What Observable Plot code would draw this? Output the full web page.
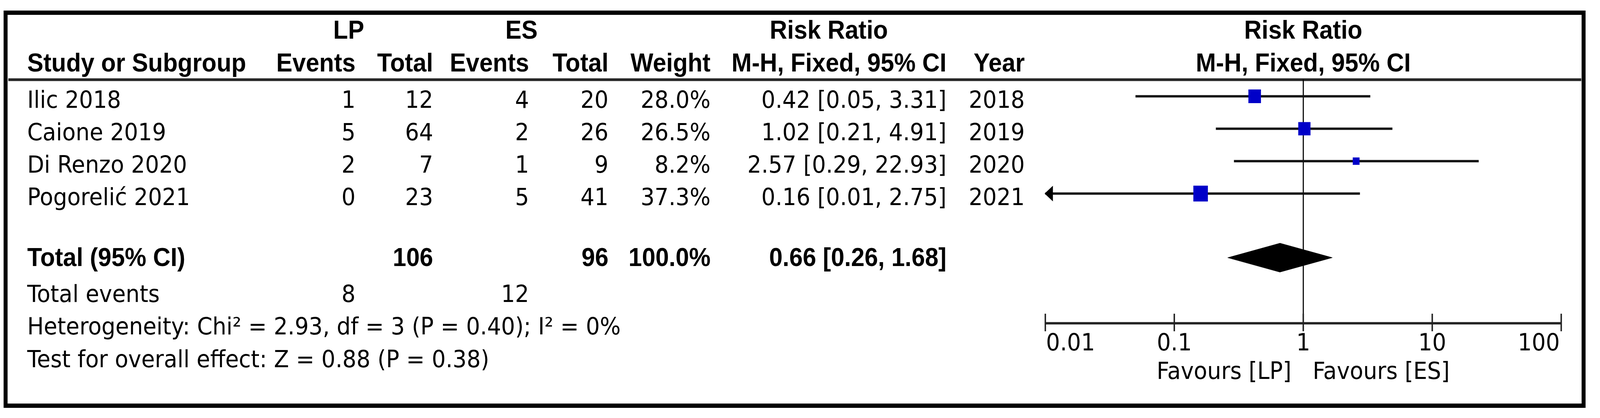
<!DOCTYPE html>
<html>
<head>
<meta charset="utf-8">
<script src="https://cdn.jsdelivr.net/npm/d3@7"></script>
<script src="https://cdn.jsdelivr.net/npm/@observablehq/plot@0.6"></script>
<style>
  html, body { margin: 0; padding: 0; background: #fff; overflow: hidden; }
  #chart { position: relative; width: 4435px; height: 1070px; overflow: hidden; background: #fff; transform-origin: 0 0; }
  #chart svg { position: absolute; left: 0; top: 0; }
  #border { position: absolute; left: 10px; top: 27px; width: 4363px; height: 995px; border: 11px solid #000; box-sizing: content-box; }
</style>
</head>
<body>
<div id="chart"><div id="border"></div></div>
<script>
// ---------------- DATA ----------------
const studies   = ["Ilic 2018", "Caione 2019", "Di Renzo 2020", "Pogoreli\u0107 2021"];
const lpEvents  = [1, 5, 2, 0];
const lpTotal   = [12, 64, 7, 23];
const esEvents  = [4, 2, 1, 5];
const esTotal   = [20, 26, 9, 41];
const weights   = [28.0, 26.5, 8.2, 37.3];
const rrEst     = [0.42, 1.02, 2.57, 0.16];
const rrLow     = [0.05, 0.21, 0.29, 0.01];
const rrHigh    = [3.31, 4.91, 22.93, 2.75];
const years     = [2018, 2019, 2020, 2021];

const totalLabel        = "Total (95% CI)";
const totalParticipants = [106, 96];        // LP, ES
const totalWeight       = 100.0;
const pooledRR          = [0.66, 0.26, 1.68]; // estimate, low, high
const totalEventsLabel  = "Total events";
const totalEvents       = [8, 12];          // LP, ES
const heterogeneityText = "Heterogeneity: Chi\u00B2 = 2.93, df = 3 (P = 0.40); I\u00B2 = 0%";
const overallEffectText = "Test for overall effect: Z = 0.88 (P = 0.38)";

const groupHeaders  = ["LP", "ES"];
const columnHeaders = ["Study or Subgroup", "Events", "Total", "Events", "Total", "Weight", "M-H, Fixed, 95% CI", "Year"];
const effectHeaders = ["Risk Ratio", "M-H, Fixed, 95% CI"];
const axisTicks     = [0.01, 0.1, 1, 10, 100];
const favoursLabels = ["Favours [LP]", "Favours [ES]"];

// ---------------- LAYOUT / STYLE ----------------
const W = 4435, H = 1070;
const REG_FONT = "'DejaVu Sans', Verdana, sans-serif";
const BOLD_FONT = "'Liberation Sans', Arial, sans-serif";
const REG_SIZE = 61, BOLD_SIZE = 67;

// row units: study i sits at i; 83px per row
const Y = {type: "linear", domain: [-246 / 83, 824 / 83], range: [0, H], axis: null};
const ROW = {hdr1: -1.783, hdr2: -0.771, headerLine: -0.512, total: 5.229, pooled: 4.976,
             totalEvents: 6.345, het: 7.349, test: 8.361, axis: 7.0, tickLabels: 7.843, favours: 8.711};
const studyBaseline = i => i + 0.35;

const COLS = {
  study:  {x: 75,   anchor: "start"},
  lpEv:   {x: 985,  anchor: "end"},
  lpTot:  {x: 1200, anchor: "end"},
  esEv:   {x: 1466, anchor: "end"},
  esTot:  {x: 1686, anchor: "end"},
  weight: {x: 1969, anchor: "end"},
  rr:     {x: 2623, anchor: "end"},
  year:   {x: 2840, anchor: "end"},
  lpGrp:  {x: 966,  anchor: "middle"},
  esGrp:  {x: 1445, anchor: "middle"},
  rrGrp:  {x: 2297, anchor: "middle"}
};
const headerCols = ["study", "lpEv", "lpTot", "esEv", "esTot", "weight", "rr", "year"];

const fmtRR = (e, l, h) => `${e.toFixed(2)} [${l.toFixed(2)}, ${h.toFixed(2)}]`;
const fmtW = w => `${w.toFixed(1)}%`;

// ---------------- TABLE CELLS ----------------
const cells = [];
const add = (y, col, text, bold) => cells.push({y, x: COLS[col].x, anchor: COLS[col].anchor, text: String(text), bold});

add(ROW.hdr1, "lpGrp", groupHeaders[0], true);
add(ROW.hdr1, "esGrp", groupHeaders[1], true);
add(ROW.hdr1, "rrGrp", effectHeaders[0], true);
columnHeaders.forEach((h, j) => add(ROW.hdr2, headerCols[j], h, true));

studies.forEach((s, i) => {
  const y = studyBaseline(i);
  add(y, "study", s, false);
  add(y, "lpEv", lpEvents[i], false);
  add(y, "lpTot", lpTotal[i], false);
  add(y, "esEv", esEvents[i], false);
  add(y, "esTot", esTotal[i], false);
  add(y, "weight", fmtW(weights[i]), false);
  add(y, "rr", fmtRR(rrEst[i], rrLow[i], rrHigh[i]), false);
  add(y, "year", years[i], false);
});

add(ROW.total, "study", totalLabel, true);
add(ROW.total, "lpTot", totalParticipants[0], true);
add(ROW.total, "esTot", totalParticipants[1], true);
add(ROW.total, "weight", fmtW(totalWeight), true);
add(ROW.total, "rr", fmtRR(...pooledRR), true);

add(ROW.totalEvents, "study", totalEventsLabel, false);
add(ROW.totalEvents, "lpEv", totalEvents[0], false);
add(ROW.totalEvents, "esEv", totalEvents[1], false);
add(ROW.het, "study", heterogeneityText, false);
add(ROW.test, "study", overallEffectText, false);

const textStyle = bold => ({
  lineAnchor: "bottom",
  fontFamily: bold ? BOLD_FONT : REG_FONT,
  fontWeight: bold ? "bold" : "normal",
  fontSize: bold ? BOLD_SIZE : REG_SIZE,
  fill: "#000"
});

const tableMarks = [];
for (const bold of [true, false]) {
  for (const anchor of ["start", "middle", "end"]) {
    const subset = cells.filter(c => c.bold === bold && c.anchor === anchor);
    if (subset.length) tableMarks.push(Plot.text(subset, {x: "x", y: "y", text: "text", textAnchor: anchor, ...textStyle(bold)}));
  }
}

const table = Plot.plot({
  width: W, height: H, margin: 0,
  x: {type: "identity", axis: null},
  y: Y,
  style: {background: "transparent", overflow: "visible"},
  marks: [
    Plot.ruleY([ROW.headerLine], {x1: 23, x2: 4383, stroke: "#262626", strokeWidth: 7}),
    ...tableMarks
  ]
});

// ---------------- FOREST PLOT ----------------
const rows = studies.map((s, i) => ({i, est: rrEst[i], low: rrLow[i], high: rrHigh[i], weight: weights[i]}));
const xMin = axisTicks[0], xMax = axisTicks[axisTicks.length - 1];
const clipped = rows.filter(d => d.low <= xMin);

const arrowLeft = {
  draw(ctx) { ctx.moveTo(-2, 0); ctx.lineTo(21, -20); ctx.lineTo(21, 20); ctx.closePath(); }
};

const dh = 0.446;
const diamond = [
  {x: pooledRR[1], y: ROW.pooled},
  {x: pooledRR[0], y: ROW.pooled - dh},
  {x: pooledRR[2], y: ROW.pooled},
  {x: pooledRR[0], y: ROW.pooled + dh}
];

const forest = Plot.plot({
  width: W, height: H, margin: 0,
  x: {type: "log", domain: [xMin, xMax], range: [2897, 4327], axis: null},
  y: Y,
  r: {type: "sqrt", domain: [0, 100], range: [0, 37.2]},
  style: {background: "transparent", overflow: "visible"},
  marks: [
    // null line
    Plot.ruleX([1], {y1: ROW.headerLine, y2: ROW.axis, stroke: "#000", strokeWidth: 3}),
    // confidence intervals
    Plot.link(rows, {x1: d => Math.max(d.low, xMin), x2: d => Math.min(d.high, xMax), y1: "i", y2: "i", stroke: "#111", strokeWidth: 6}),
    Plot.dot(clipped, {x: () => xMin, y: "i", symbol: arrowLeft, r: 10, fill: "#000", stroke: "none"}),
    // study estimates
    Plot.dot(rows, {x: "est", y: "i", r: "weight", symbol: "square", fill: "#0000C8", stroke: "none"}),
    // pooled diamond
    Plot.line(diamond, {x: "x", y: "y", curve: "linear-closed", fill: "#000", stroke: "#000", strokeWidth: 1}),
    // axis
    Plot.ruleY([ROW.axis], {x1: xMin, x2: xMax, stroke: "#222", strokeWidth: 6}),
    Plot.ruleX(axisTicks, {y1: ROW.axis - 24 / 83, y2: ROW.axis + 21 / 83, stroke: "#222", strokeWidth: 4}),
    Plot.text(axisTicks.slice(0, 1), {x: d => d, y: () => ROW.tickLabels, text: d => String(d), textAnchor: "start", dx: 2, ...textStyle(false)}),
    Plot.text(axisTicks.slice(1, -1), {x: d => d, y: () => ROW.tickLabels, text: d => String(d), textAnchor: "middle", ...textStyle(false)}),
    Plot.text(axisTicks.slice(-1), {x: d => d, y: () => ROW.tickLabels, text: d => String(d), textAnchor: "end", dx: -4, ...textStyle(false)}),
    // favours labels
    Plot.text([favoursLabels[0]], {x: () => 1, y: () => ROW.favours, text: d => d, textAnchor: "end", dx: -33, ...textStyle(false)}),
    Plot.text([favoursLabels[1]], {x: () => 1, y: () => ROW.favours, text: d => d, textAnchor: "start", dx: 26, ...textStyle(false)}),
    // effect headers
    Plot.text([effectHeaders[0]], {x: () => 1, y: () => ROW.hdr1, text: d => d, textAnchor: "middle", ...textStyle(true)}),
    Plot.text([effectHeaders[1]], {x: () => 1, y: () => ROW.hdr2, text: d => d, textAnchor: "middle", ...textStyle(true)})
  ]
});

const chart = document.getElementById("chart");
chart.appendChild(table);
chart.appendChild(forest);

// fill the actual CSS viewport with the 4435×1070 drawing
function fit() {
  let sx = window.innerWidth / W, sy = window.innerHeight / H;
  if (!(sx > 0)) sx = 1;
  if (!(sy > 0)) sy = 1;
  if (Math.abs(sx - 1) < 0.001) sx = 1;
  if (Math.abs(sy - 1) < 0.001) sy = 1;
  chart.style.transform = (sx === 1 && sy === 1) ? "none" : `scale(${sx}, ${sy})`;
}
fit();
window.addEventListener("resize", fit);
</script>
</body>
</html>
